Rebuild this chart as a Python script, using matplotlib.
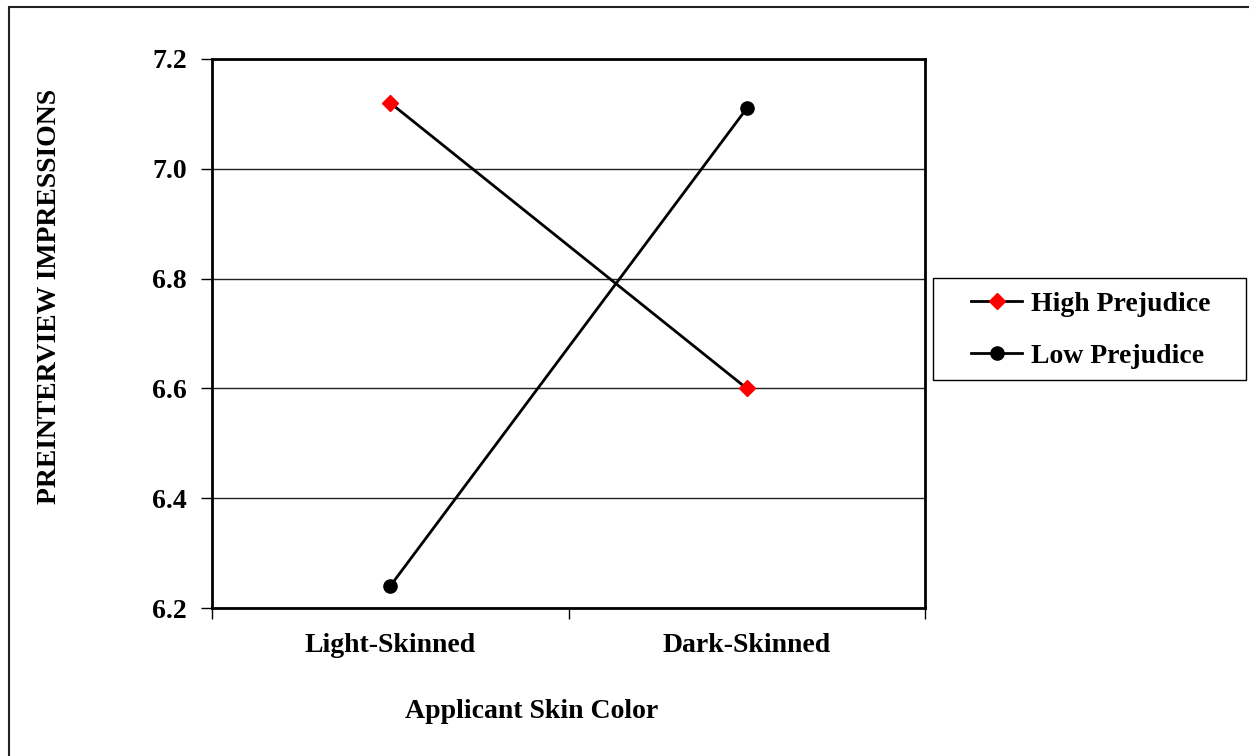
import matplotlib
matplotlib.use("Agg")
import matplotlib.pyplot as plt
from matplotlib.patches import Rectangle

categories = ["Light-Skinned", "Dark-Skinned"]
high_prejudice = [7.12, 6.60]
low_prejudice = [6.24, 7.11]
y_ticks = [6.2, 6.4, 6.6, 6.8, 7.0, 7.2]

plt.rcParams['font.family'] = ['Liberation Serif', 'DejaVu Serif']
plt.rcParams['font.weight'] = 'bold'

FS = 20
W, H = 1249, 756
fig = plt.figure(figsize=(W / 100, H / 100), dpi=100)
fig.patch.set_facecolor('white')

# figure border
fig.add_artist(Rectangle((8.5 / W, -0.1), 1.2, 1 - 7.5 / H + 0.1, transform=fig.transFigure,
                         fill=False, edgecolor='#222222', linewidth=1.5))

ax = fig.add_axes([212 / W, 1 - 608 / H, (925 - 212) / W, (608 - 59) / H])
x = [0.5, 1.5]
ax.plot(x, high_prejudice, color='black', linewidth=2, marker='D', markersize=8,
        markerfacecolor='red', markeredgecolor='red', label='High Prejudice', zorder=3)
ax.plot(x, low_prejudice, color='black', linewidth=2, marker='o', markersize=9.5,
        markerfacecolor='black', markeredgecolor='black', label='Low Prejudice', zorder=3)

ax.set_xlim(0, 2)
ax.set_ylim(6.2, 7.2)
ax.set_yticks(y_ticks)
ax.set_yticklabels([f"{v:.1f}" for v in y_ticks], fontsize=FS, fontweight='bold')
ax.yaxis.grid(True, color='#222222', linewidth=1)
ax.set_axisbelow(True)

ax.set_xticks([0, 1, 2])
ax.set_xticklabels([])
ax.set_xticks(x, minor=True)
ax.set_xticklabels(categories, minor=True, fontsize=FS, fontweight='bold')
ax.tick_params(axis='x', which='minor', length=0, pad=18)
ax.tick_params(axis='x', which='major', length=8, width=1, direction='out')
ax.tick_params(axis='y', length=8, width=1, direction='out', pad=10)

for s in ax.spines.values():
    s.set_linewidth(2)
    s.set_color('black')

fig.text(532 / W, 1 - 712 / H, "Applicant Skin Color", fontsize=FS, fontweight='bold',
         ha='center', va='center')
fig.text(50 / W, 1 - 296 / H, "PREINTERVIEW IMPRESSIONS", fontsize=FS, fontweight='bold',
         ha='center', va='center', rotation=90)

# legend frame
fig.add_artist(Rectangle((933 / W, 1 - 380 / H), (1246 - 933) / W, (380 - 278) / H,
                         transform=fig.transFigure, fill=False, edgecolor='black', linewidth=1))
leg = fig.legend(loc='center left', bbox_to_anchor=(971 / W, 1 - 330 / H),
                 frameon=False, prop={'weight': 'bold', 'size': FS}, handlelength=1.85,
                 borderpad=0, labelspacing=0.95, handletextpad=0.3, borderaxespad=0)

fig.savefig("out.png", dpi=100, facecolor='white')
